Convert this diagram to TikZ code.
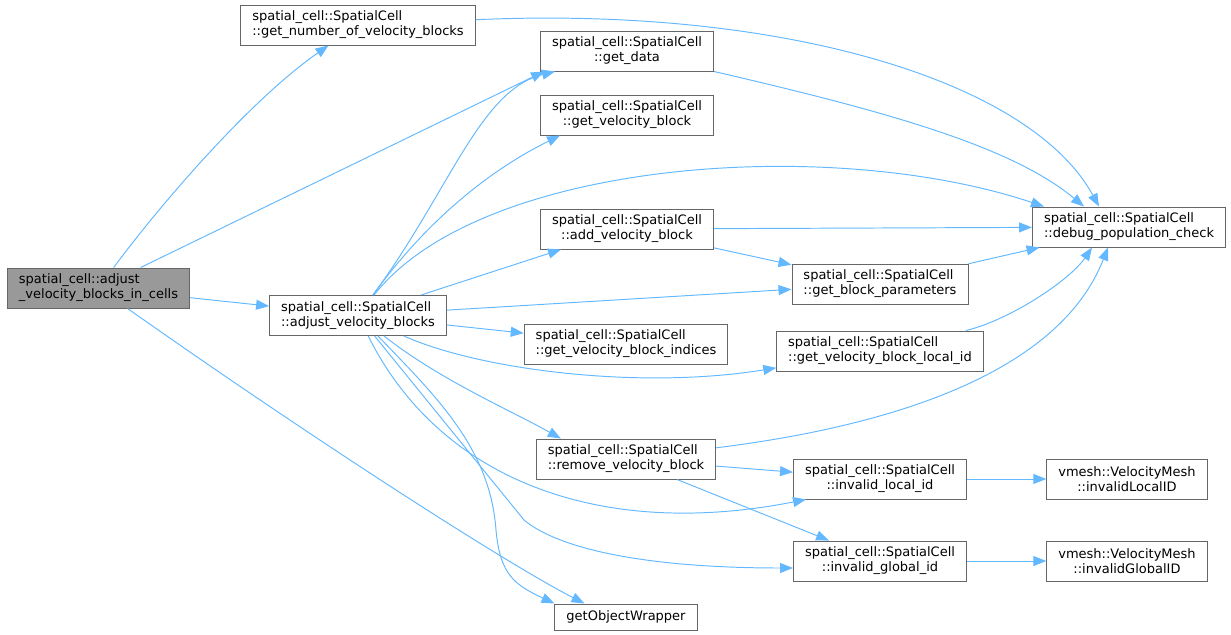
\documentclass[tikz,border=0pt]{standalone}
\usepackage{fontspec}
\setmainfont{DejaVu Sans}
\usetikzlibrary{arrows.meta}
\definecolor{edgeblue}{HTML}{63B8FF}
\definecolor{boxgray}{HTML}{666666}
\definecolor{rootgray}{HTML}{999999}
\begin{document}
\begin{tikzpicture}[x=0.02cm, y=-0.02cm,
    fn/.style={draw=boxgray, fill=white, line width=0.55pt, font=\fontsize{7.4}{8.6}\selectfont,
      align=left, inner xsep=0.23cm, inner ysep=0.05cm, minimum height=0.8cm},
    call/.style={draw=edgeblue, line width=0.55pt, -{Triangle[length=0.26cm,width=0.2cm]}}]
    \useasboundingbox (0,0) rectangle (1231,635);
    \node [fn, fill=rootgray] (adjcells) at (98.5,288) {spatial\_cell::adjust\\\_velocity\_blocks\_in\_cells};
    \node [fn] (numblocks) at (358,25) {spatial\_cell::SpatialCell\\::get\_number\_of\_velocity\_blocks};
    \node [fn, align=center] (getdata) at (627,51) {spatial\_cell::SpatialCell\\::get\_data};
    \node [fn, align=center] (getblock) at (627,115) {spatial\_cell::SpatialCell\\::get\_velocity\_block};
    \node [fn] (debugcheck) at (1129,227) {spatial\_cell::SpatialCell\\::debug\_population\_check};
    \node [fn, align=center] (addblock) at (627,229) {spatial\_cell::SpatialCell\\::add\_velocity\_block};
    \node [fn] (blockparams) at (880,284) {spatial\_cell::SpatialCell\\::get\_block\_parameters};
    \node [fn] (adjblocks) at (358,315.5) {spatial\_cell::SpatialCell\\::adjust\_velocity\_blocks};
    \node [fn] (blockindices) at (626,344) {spatial\_cell::SpatialCell\\::get\_velocity\_block\_indices};
    \node [fn] (localid) at (880,351) {spatial\_cell::SpatialCell\\::get\_velocity\_block\_local\_id};
    \node [fn] (removeblock) at (626,459) {spatial\_cell::SpatialCell\\::remove\_velocity\_block};
    \node [fn, align=center] (invlocal) at (880,479) {spatial\_cell::SpatialCell\\::invalid\_local\_id};
    \node [fn, align=center] (meshlocal) at (1127,479) {vmesh::VelocityMesh\\::invalidLocalID};
    \node [fn, align=center] (invglobal) at (880,561) {spatial\_cell::SpatialCell\\::invalid\_global\_id};
    \node [fn, align=center] (meshglobal) at (1127,561) {vmesh::VelocityMesh\\::invalidGlobalID};
    \node [fn, minimum height=0.52cm] (wrapper) at (626,617) {getObjectWrapper};

    \draw [call] (adjcells) .. controls (160,205) and (250,100) .. (numblocks);
    \draw [call] (adjcells) -- ([xshift=0.08cm]getdata.south west);
    \draw [call] (adjcells) -- (adjblocks);
    \draw [call] (adjcells) .. controls (300,430) and (500,560) .. ([xshift=0.6cm]wrapper.north west);
    \draw [call] (numblocks) .. controls (780,6) and (1030,80) .. ([xshift=1.34cm]debugcheck.north west);
    \draw [call] (getdata.south east) .. controls (880,110) and (1010,145) .. ([xshift=1.04cm]debugcheck.north west);
    \draw [call] (adjblocks) .. controls (450,190) and (480,90) .. ([xshift=0.3cm]getdata.south west);
    \draw [call] (adjblocks) .. controls (420,230) and (480,175) .. ([xshift=0.4cm]getblock.south west);
    \draw [call] (adjblocks) .. controls (480,160) and (830,135) .. ([xshift=0.24cm]debugcheck.north west);
    \draw [call] (adjblocks) -- ([xshift=0.42cm]addblock.south west);
    \draw [call] (adjblocks) -- (blockparams);
    \draw [call] (adjblocks) -- (blockindices);
    \draw [call] (adjblocks) .. controls (480,370) and (640,390) .. (localid);
    \draw [call] (adjblocks) .. controls (440,380) and (510,410) .. ([xshift=0.5cm]removeblock.north west);
    \draw [call] (adjblocks) .. controls (440,480) and (600,540) .. ([xshift=0.26cm]invlocal.south west);
    \draw [call] (adjblocks) -- (524,520) .. controls (560,550) and (650,568) .. ([yshift=-0.14cm]invglobal.west);
    \draw [call] (adjblocks) .. controls (440,400) and (490,450) .. (496,530) .. controls (500,575) and (515,585) .. (wrapper.north west);
    \draw [call] (addblock) -- (debugcheck);
    \draw [call] (addblock) -- (blockparams);
    \draw [call] (blockparams) -- (debugcheck);
    \draw [call] (localid) .. controls (1010,320) and (1070,280) .. ([xshift=1.2cm]debugcheck.south west);
    \draw [call] (removeblock) .. controls (900,425) and (1060,370) .. ([xshift=1.52cm]debugcheck.south west);
    \draw [call] (removeblock) -- (invlocal);
    \draw [call] (removeblock) -- (invglobal);
    \draw [call] (invlocal) -- (meshlocal);
    \draw [call] (invglobal) -- (meshglobal);
\end{tikzpicture}
\end{document}
